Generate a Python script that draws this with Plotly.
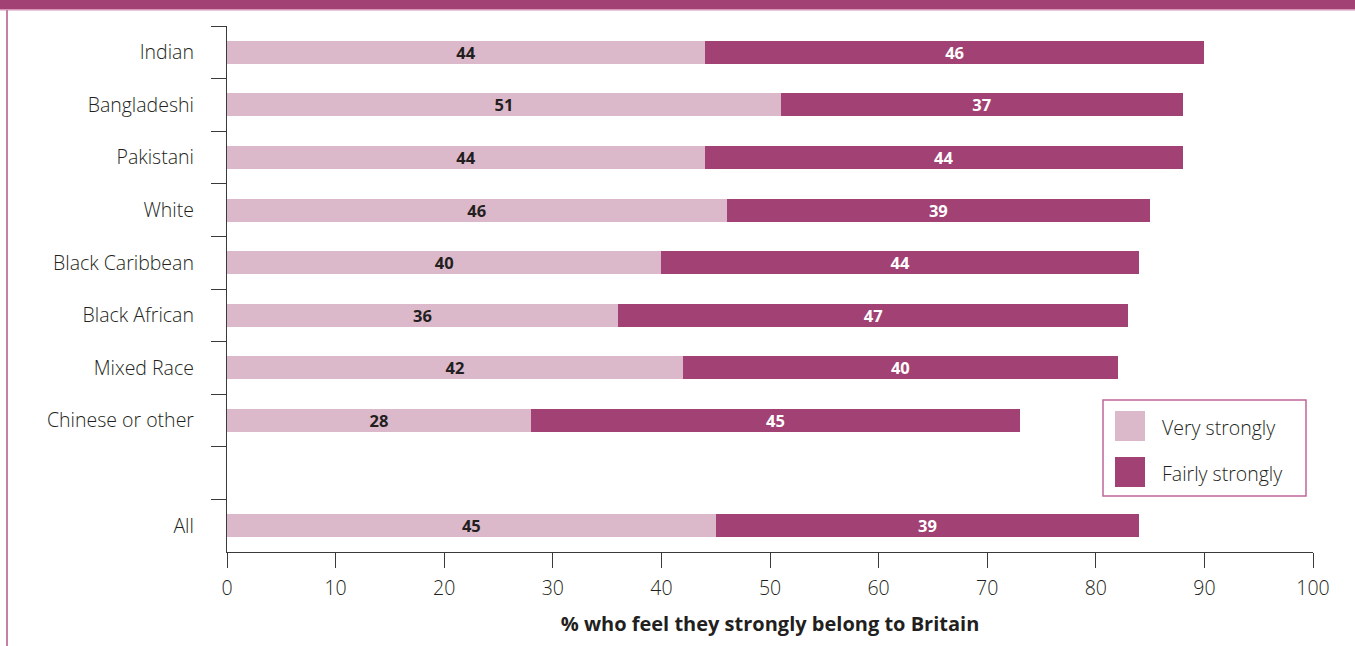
import plotly.graph_objects as go

categories = ["Indian", "Bangladeshi", "Pakistani", "White", "Black Caribbean",
              "Black African", "Mixed Race", "Chinese or other", " ", "All"]
very_strongly = [44, 51, 44, 46, 40, 36, 42, 28, None, 45]
fairly_strongly = [46, 37, 44, 39, 44, 47, 40, 45, None, 39]
series_names = ["Very strongly", "Fairly strongly"]
x_ticks = [0, 10, 20, 30, 40, 50, 60, 70, 80, 90, 100]
x_title = "% who feel they strongly belong to Britain"

LIGHT = "#dcb8cb"
DARK = "#a24173"
TEXT = "#231f20"
FONT = "Open Sans"

def labels(vals):
    return [("" if v is None else str(v)) for v in vals]

fig = go.Figure()
fig.add_trace(go.Bar(
    y=categories, x=very_strongly, orientation="h", name=series_names[0],
    marker=dict(color=LIGHT, line=dict(width=0)), width=0.44,
    text=labels(very_strongly), textposition="inside", insidetextanchor="middle", textangle=0,
    textfont=dict(family=FONT, size=16.5, color=TEXT, weight="bold"),
    constraintext="none", showlegend=False, hoverinfo="skip"))
fig.add_trace(go.Bar(
    y=categories, x=fairly_strongly, orientation="h", name=series_names[1],
    marker=dict(color=DARK, line=dict(width=0)), width=0.44,
    text=labels(fairly_strongly), textposition="inside", insidetextanchor="middle", textangle=0,
    textfont=dict(family=FONT, size=16.5, color="white", weight="bold"),
    constraintext="none", showlegend=False, hoverinfo="skip"))

W, H = 1355, 646
ML, MR, MT, MB = 227, 42, 26, 94
PW, PH = W - ML - MR, H - MT - MB

def px(xp):
    return (xp - ML) / PW

def py(yp):
    return (H - MB - yp) / PH

shapes = []
# top band
shapes.append(dict(type="rect", xref="paper", yref="paper", x0=px(0), x1=px(W), y0=py(9), y1=py(-5),
                   fillcolor=DARK, line=dict(width=0), layer="above"))
shapes.append(dict(type="rect", xref="paper", yref="paper", x0=px(0), x1=px(W), y0=py(10.5), y1=py(9),
                   fillcolor="#d796b8", line=dict(width=0), layer="above"))
# left border
shapes.append(dict(type="rect", xref="paper", yref="paper", x0=px(6), x1=px(8), y0=py(H + 5), y1=py(10),
                   fillcolor="#c77fa8", line=dict(width=0), layer="above"))
# legend box
shapes.append(dict(type="rect", xref="paper", yref="paper", x0=px(1103), x1=px(1306), y0=py(496), y1=py(400),
                   fillcolor="white", line=dict(color="#c0679a", width=1.5), layer="above"))
shapes.append(dict(type="rect", xref="paper", yref="paper", x0=px(1115), x1=px(1145), y0=py(441), y1=py(411),
                   fillcolor=LIGHT, line=dict(width=0), layer="above"))
shapes.append(dict(type="rect", xref="paper", yref="paper", x0=px(1115), x1=px(1145), y0=py(487), y1=py(457),
                   fillcolor=DARK, line=dict(width=0), layer="above"))

TW = 350
annotations = [
    dict(xref="paper", yref="paper", x=px(1160), y=py(427), text=series_names[0], showarrow=False,
         xanchor="left", yanchor="middle", font=dict(family=FONT, size=19.5, color=TEXT, weight=TW)),
    dict(xref="paper", yref="paper", x=px(1160), y=py(473), text=series_names[1], showarrow=False,
         xanchor="left", yanchor="middle", font=dict(family=FONT, size=19.5, color=TEXT, weight=TW)),
]

fig.update_layout(
    width=W, height=H, barmode="stack",
    margin=dict(l=ML, r=MR, t=MT, b=MB, pad=0),
    plot_bgcolor="white", paper_bgcolor="white",
    font=dict(family=FONT, size=19, color=TEXT),
    shapes=shapes, annotations=annotations,
    xaxis=dict(range=[0, 100], tickvals=x_ticks, ticks="outside", ticklen=15, tickcolor="#3a3a3a",
               tickwidth=1.3, showline=True, linecolor="#3a3a3a", linewidth=1.3, showgrid=False,
               zeroline=False, tickfont=dict(family=FONT, size=19.5, color=TEXT, weight=TW),
               ticklabelstandoff=3,
               title=dict(text="<b>" + x_title + "</b>", font=dict(family=FONT, size=20, color=TEXT), standoff=17)),
    yaxis=dict(type="category", categoryorder="array", categoryarray=categories, autorange="reversed",
               tickson="boundaries", ticks="outside", ticklen=15, tickcolor="#3a3a3a", tickwidth=1.3,
               showline=True, linecolor="#3a3a3a", linewidth=1.3, showgrid=False, zeroline=False,
               tickfont=dict(family=FONT, size=19.5, color=TEXT, weight=TW), ticklabelstandoff=28),
)

fig.write_html("out.html")
